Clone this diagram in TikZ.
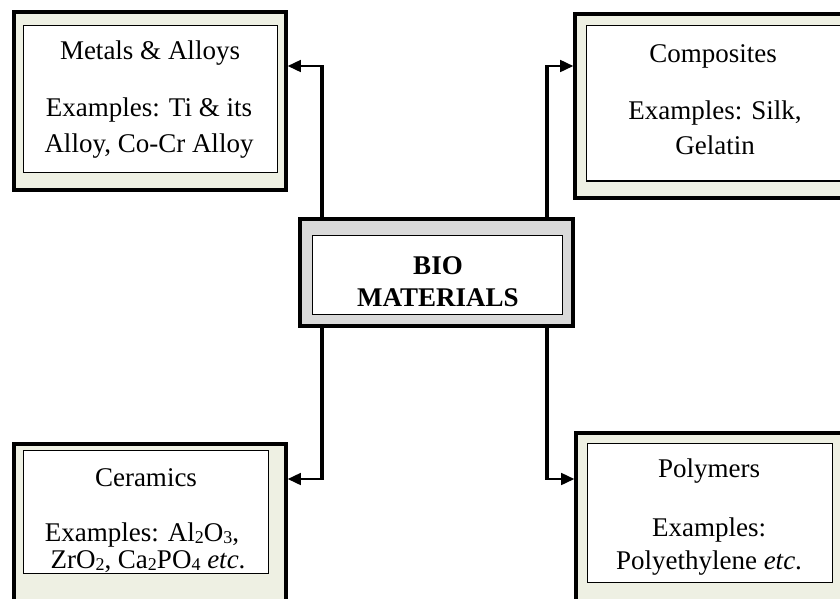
\documentclass[tikz,border=0pt]{standalone}
\usepackage{fontspec}
\setmainfont{Liberation Serif}
\usetikzlibrary{arrows.meta}
\definecolor{pale}{HTML}{EEF0E3}
\definecolor{midgray}{HTML}{D9D9D9}
\newcommand\mysub[1]{\raisebox{-0.1em}{\fontsize{18}{18}\selectfont #1}}
\begin{document}
\begin{tikzpicture}[x=1pt,y=-1pt,
  outerbox/.style={draw=black,line width=3.6pt,rectangle,inner sep=0pt},
  innerbox/.style={draw=black,line width=1.3pt,fill=white,rectangle,inner sep=0pt},
  txt/.style={inner sep=0pt,anchor=base,font=\fontsize{27}{36}\selectfont},
  btxt/.style={txt,font=\fontsize{27}{36}\selectfont\bfseries},
  trunk/.style={line width=3.8pt},
  branch/.style={line width=1.6pt,-{Triangle[length=13pt,width=12pt]}}]
\useasboundingbox (0,0) rectangle (840,598);
\clip (0,0) rectangle (840,598);
\fill[white] (0,0) rectangle (840,598);
% boxes
\node[outerbox,fill=pale,minimum width=272pt,minimum height=178pt] (M) at (150,101) {};
\node[innerbox,minimum width=254pt,minimum height=147pt] (Mi) at (150.5,99) {};
\node[outerbox,fill=pale,minimum width=277pt,minimum height=184pt] (C) at (713.5,106) {};
\node[innerbox,minimum width=255pt,minimum height=155.5pt] (Ci) at (714,103.25) {};
\node[outerbox,fill=midgray,minimum width=273pt,minimum height=107pt] (B) at (436.5,272.5) {};
\node[innerbox,minimum width=250pt,minimum height=79pt] (Bi) at (437.5,275) {};
\node[outerbox,fill=pale,minimum width=272pt,minimum height=176pt] (Ce) at (150,532) {};
\node[innerbox,minimum width=245pt,minimum height=123pt] (Cei) at (146,512) {};
\node[outerbox,fill=pale,minimum width=276pt,minimum height=187pt] (P) at (714,526.5) {};
\node[innerbox,minimum width=245pt,minimum height=139pt] (Pi) at (710,513) {};
% texts
\node[txt] (Mt) at (150,59) {Metals \& Alloys};
\node[txt] (Me1) at (149,116) {Examples: Ti \& its};
\node[txt] (Me2) at (149,152) {Alloy, Co-Cr Alloy};
\node[txt] (Ct) at (713,62) {Composites};
\node[txt] (Ce1t) at (715,119) {Examples: Silk,};
\node[txt] (Ce2t) at (715,154) {Gelatin};
\node[btxt] (Bt1) at (438,274) {BIO};
\node[btxt] (Bt2) at (438,306) {MATERIALS};
\node[txt] (Cet) at (146,486) {Ceramics};
\node[txt] (Cee1) at (142,541) {Examples: Al\mysub{2}O\mysub{3},};
\node[txt] (Cee2) at (148,568) {ZrO\mysub{2}, Ca\mysub{2}PO\mysub{4} \textit{etc}.};
\node[txt] (Pt) at (709,477) {Polymers};
\node[txt] (Pe1) at (709,536) {Examples:};
\node[txt] (Pe2) at (709,569) {Polyethylene \textit{etc}.};
% connectors
\coordinate (jM) at (322,66);
\coordinate (jC) at (547,66);
\coordinate (jCe) at (322,479);
\coordinate (jP) at (547,479);
\draw[trunk] (B.north -| jM) -- ([yshift=0.8pt]jM);
\draw[trunk] (B.north -| jC) -- ([yshift=0.8pt]jC);
\draw[trunk] (B.south -| jCe) -- ([yshift=-0.8pt]jCe);
\draw[trunk] (B.south -| jP) -- ([yshift=-0.8pt]jP);
\draw[branch] (jM) -- (M.east |- jM);
\draw[branch] (jC) -- (C.west |- jC);
\draw[branch] (jCe) -- (Ce.east |- jCe);
\draw[branch] (jP) -- (P.west |- jP);
\end{tikzpicture}
\end{document}
